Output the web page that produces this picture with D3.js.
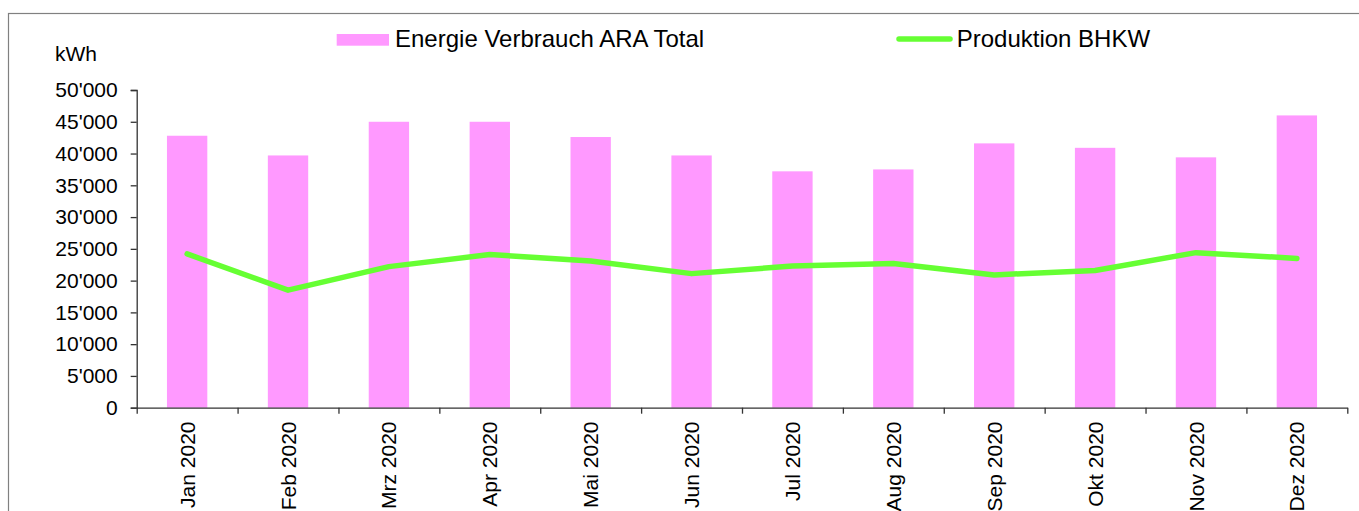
<!DOCTYPE html>
<html>
<head>
<meta charset="utf-8">
<script src="https://cdn.jsdelivr.net/npm/d3@7.9.0/dist/d3.min.js"></script>
<style>
  body { margin: 0; background: #fff; }
  svg { display: block; font-family: "Liberation Sans", Arial, sans-serif; }
</style>
</head>
<body>
<svg id="chart" width="1359" height="511"></svg>
<script>
const months = ['Jan 2020', 'Feb 2020', 'Mrz 2020', 'Apr 2020', 'Mai 2020', 'Jun 2020',
  'Jul 2020', 'Aug 2020', 'Sep 2020', 'Okt 2020', 'Nov 2020', 'Dez 2020'];
const verbrauch = [42800, 39700, 45000, 45000, 42600, 39700, 37200, 37500, 41600, 40900, 39400, 46000];
const produktion = [24200, 18500, 22200, 24100, 23100, 21100, 22300, 22700, 20900, 21600, 24400, 23500];
const yTicks = [0, 5000, 10000, 15000, 20000, 25000, 30000, 35000, 40000, 45000, 50000];

const svg = d3.select('#chart');
const plotLeft = 136.7, plotRight = 1347.3, plotTop = 90, plotBottom = 407.7;

const fmt = d3.formatLocale({ decimal: '.', thousands: "'", grouping: [3], currency: ['', ''] }).format(',');

// outer frame
svg.append('rect')
  .attr('x', 8.5).attr('y', 13.5)
  .attr('width', 1400).attr('height', 600)
  .attr('fill', 'none').attr('stroke', '#808080').attr('stroke-width', 1.2);

let x = d3.scaleBand().domain(months).range([plotLeft, plotRight]).paddingInner(0.6).paddingOuter(0.3);
let xEdges = d3.scaleLinear().domain([0, months.length]).range([plotLeft, plotRight]);
let y = d3.scaleLinear().domain([0, 50000]).range([plotBottom, plotTop]);

// bars
svg.append('g').selectAll('rect')
  .data(verbrauch)
  .join('rect')
  .attr('x', (d, i) => x(months[i]))
  .attr('y', (d) => y(d))
  .attr('width', x.bandwidth())
  .attr('height', (d) => y(0) - y(d))
  .attr('fill', '#ff99ff');

// line
let line = d3.line()
  .x((d, i) => x(months[i]) + x.bandwidth() / 2)
  .y((d) => y(d));

svg.append('path')
  .datum(produktion)
  .attr('d', line)
  .attr('fill', 'none')
  .attr('stroke', '#66ff33')
  .attr('stroke-width', 5.5)
  .attr('stroke-linecap', 'round')
  .attr('stroke-linejoin', 'round');

// y axis
let yAxis = svg.append('g')
  .attr('transform', `translate(${plotLeft},0)`)
  .call(d3.axisLeft(y).tickValues(yTicks).tickFormat(fmt).tickSize(6).tickPadding(13));
yAxis.select('.domain').attr('stroke', '#333').attr('stroke-width', 1.3);
yAxis.selectAll('.tick line').attr('stroke', '#333').attr('stroke-width', 1.3);
yAxis.selectAll('.tick text').attr('font-size', 21).attr('fill', '#000')
  .attr('font-family', '"Liberation Sans", Arial, sans-serif');

// x axis ticks at the category edges
let xAxis = svg.append('g')
  .attr('transform', `translate(0,${plotBottom})`)
  .call(d3.axisBottom(xEdges).tickValues(d3.range(months.length + 1)).tickFormat('').tickSize(6).tickSizeOuter(0));
xAxis.select('.domain').attr('stroke', '#333').attr('stroke-width', 1.3);
xAxis.selectAll('.tick line').attr('stroke', '#333').attr('stroke-width', 1.3);

// x labels, rotated
svg.append('g').selectAll('text')
  .data(months)
  .join('text')
  .attr('transform', (d) => `translate(${x(d) + x.bandwidth() / 2},421.5) rotate(-90)`)
  .attr('text-anchor', 'end')
  .attr('dy', '0.36em')
  .attr('font-size', 21)
  .attr('fill', '#000')
  .text((d) => d);

// unit
svg.append('text')
  .attr('x', 55).attr('y', 61)
  .attr('font-size', 21)
  .text('kWh');

// legend
svg.append('rect')
  .attr('x', 336.7).attr('y', 34)
  .attr('width', 52.3).attr('height', 11.7)
  .attr('fill', '#ff99ff');
svg.append('text')
  .attr('x', 395).attr('y', 46.5)
  .attr('font-size', 24)
  .text('Energie Verbrauch ARA Total');

svg.append('line')
  .attr('x1', 899).attr('x2', 950)
  .attr('y1', 39).attr('y2', 39)
  .attr('stroke', '#66ff33')
  .attr('stroke-width', 5.5)
  .attr('stroke-linecap', 'round');
svg.append('text')
  .attr('x', 956.7).attr('y', 46.5)
  .attr('font-size', 24)
  .text('Produktion BHKW');
</script>
</body>
</html>
